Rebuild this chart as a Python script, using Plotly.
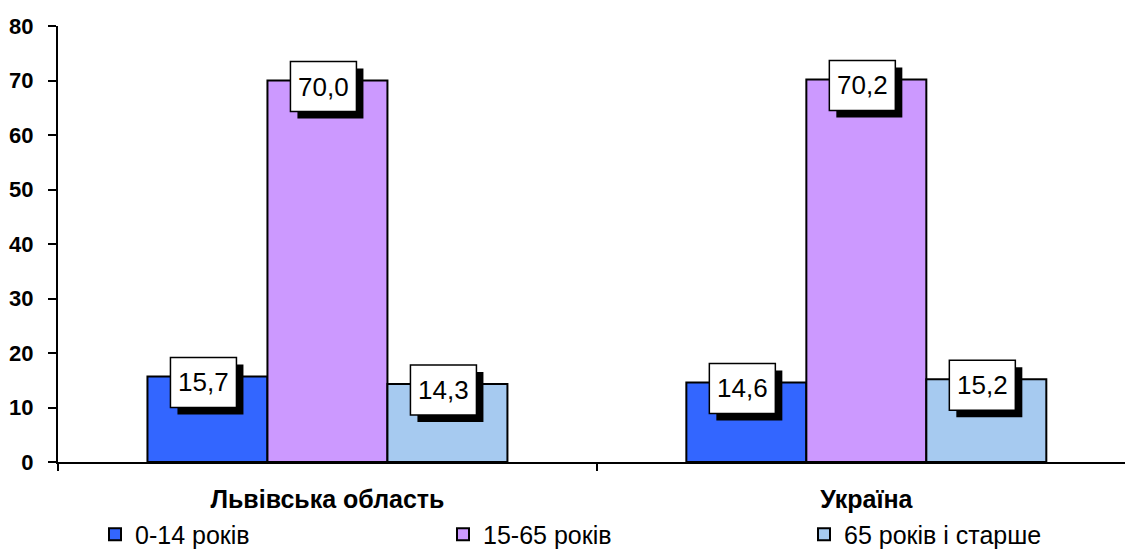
import plotly.graph_objects as go

categories = ["Львівська область", "Україна"]
series_names = ["0-14 років", "15-65 років", "65 років і старше"]
values_0_14 = [15.7, 14.6]
values_15_65 = [70.0, 70.2]
values_65_plus = [14.3, 15.2]
y_ticks = [0, 10, 20, 30, 40, 50, 60, 70, 80]

series_values = [values_0_14, values_15_65, values_65_plus]
colors = ["#3366FF", "#CC99FF", "#A6CAF0"]
legend_ids = ["legend", "legend2", "legend3"]
legend_x_px = [95, 443, 804]

fig = go.Figure()
for name, vals, col, lid in zip(series_names, series_values, colors, legend_ids):
    fig.add_trace(go.Bar(
        x=[0, 1], y=vals, name=name, legend=lid,
        marker=dict(color=col, line=dict(color="black", width=2)),
    ))

bargap = 0.332
bw = (1 - bargap) / 3
annotations = []
shapes = []
for j, vals in enumerate(series_values):
    for i, v in enumerate(vals):
        xpos = i + (j - 1) * bw
        txt = f"{v:.1f}".replace(".", ",")
        # shadow
        shapes.append(dict(type="rect", layer="above",
                           xref="x", xsizemode="pixel", xanchor=xpos, x0=-30, x1=36,
                           yref="y", ysizemode="pixel", yanchor=v, y0=-38, y1=12,
                           fillcolor="black", line=dict(width=0)))
        # label box
        shapes.append(dict(type="rect", layer="above",
                           xref="x", xsizemode="pixel", xanchor=xpos, x0=-37, x1=29,
                           yref="y", ysizemode="pixel", yanchor=v, y0=-31, y1=19,
                           fillcolor="white", line=dict(color="black", width=1.5)))
        annotations.append(dict(x=xpos, y=v, xref="x", yref="y", text=txt, showarrow=False,
                                font=dict(family="Arial", size=26, color="black"),
                                xshift=-4, yshift=-6, xanchor="center", yanchor="middle"))

legend_common = dict(
    orientation="h", xref="container", yref="container",
    xanchor="left", y=0.03, yanchor="middle",
    font=dict(family="Arial", size=25, color="black"),
    itemwidth=30, bgcolor="rgba(0,0,0,0)",
)

fig.update_layout(
    width=1125, height=551,
    margin=dict(l=58, r=0, t=26, b=89, autoexpand=False),
    paper_bgcolor="white", plot_bgcolor="white",
    barmode="group", bargap=bargap, bargroupgap=0,
    font=dict(family="Arial", color="black"),
    xaxis=dict(
        type="linear", range=[-0.5, 1.48],
        tickmode="array", tickvals=[0, 1], ticktext=categories,
        showline=True, linecolor="black", linewidth=2,
        ticks="", showgrid=False, zeroline=False, automargin=False,
        ticklabelstandoff=14,
        tickfont=dict(family="Arial", size=25, color="black", weight="bold"),
    ),
    yaxis=dict(
        range=[0, 80], tickvals=y_ticks,
        showline=True, linecolor="black", linewidth=2,
        ticks="outside", ticklen=8, tickwidth=2, tickcolor="black",
        showgrid=False, zeroline=False, automargin=False,
        ticklabelstandoff=10,
        tickfont=dict(family="Arial", size=22, color="black", weight="bold"),
    ),
    legend=dict(legend_common, x=legend_x_px[0] / 1125),
    legend2=dict(legend_common, x=legend_x_px[1] / 1125),
    legend3=dict(legend_common, x=legend_x_px[2] / 1125),
    annotations=annotations,
    shapes=shapes,
    showlegend=True,
)

# boundary ticks on the category axis, drawn with a second overlay axis
fig.add_trace(go.Scatter(x=[None], y=[None], xaxis="x2", showlegend=False, hoverinfo="skip"))
fig.update_layout(
    xaxis2=dict(
        overlaying="x", side="bottom", range=[-0.5, 1.48], anchor="y",
        tickmode="array", tickvals=[-0.5, 0.5], ticktext=["", ""],
        ticks="outside", ticklen=8, tickwidth=2, tickcolor="black",
        showgrid=False, zeroline=False, showline=False, automargin=False,
    )
)

fig.write_html("out.html", config={"displayModeBar": False},
               post_script="document.body.style.margin='0';")
